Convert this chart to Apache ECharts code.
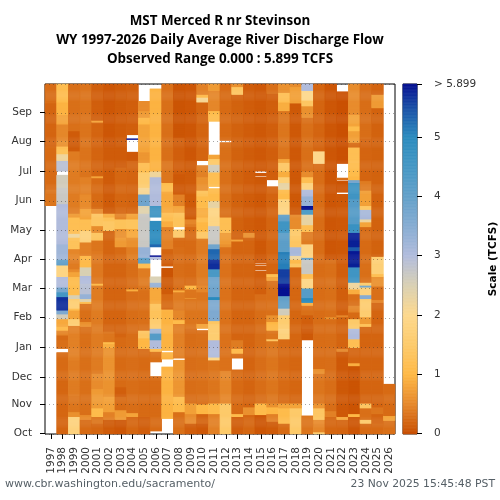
<!DOCTYPE html>
<html>
<head>
<meta charset="utf-8">
<script src="https://cdn.jsdelivr.net/npm/echarts@6/dist/echarts.min.js"></script>
<style>
html, body { margin: 0; padding: 0; background: #fff; }
#chart { width: 500px; height: 500px; }
</style>
</head>
<body>
<div id="chart"></div>
<script>
var years = [];
for (var y = 1997; y <= 2026; y++) years.push(String(y));

var monthNames = ['Oct', 'Nov', 'Dec', 'Jan', 'Feb', 'Mar', 'Apr', 'May', 'Jun', 'Jul', 'Aug', 'Sep'];
// where the reference puts its month ticks, in days up from the bottom of the plot
var monthStarts = [0, 31, 59, 90, 121, 152, 182, 212, 243, 274, 305, 335];

// each year: runs of [end day counted from Oct 1, flow in TCFS], null = no data
var wy1997 = [[238,null],[255,.35],[300,.25],[345,.2],[365,.27]];
var wy1998 = [[17,.2],[58,.22],[85,.25],[89,null],[98,.3],[103,.25],[108,.5],[112,1.0],[120,.85],[125,2.6],[129,3.6],[143,5.7],[148,4.5],[153,3.7],[164,3],[176,1.9],[182,4],[198,3.2],[240,3],[257,2.7],[270,2.6],[274,null],[285,2.9],[292,2.2],[297,1.3],[300,1.2],[306,.6],[323,.5],[333,.8],[346,.95],[352,1.1],[365,1.15]];
var wy1999 = [[18,1.8],[23,.6],[40,.35],[77,.4],[113,.45],[120,1.7],[129,.8],[131,1.1],[141,1.65],[145,2.5],[153,1.15],[164,1.1],[169,.8],[172,.55],[182,.4],[193,.5],[205,1.3],[209,2.2],[226,1.2],[230,.7],[295,.4],[316,.12],[365,.3]];
var wy2000 = [[15,.25],[20,.55],[112,.3],[117,.6],[136,.3],[138,1.1],[141,2.4],[146,3.3],[157,2.9],[165,3],[174,2.5],[178,1.1],[186,1.0],[200,.45],[212,1.8],[224,1.2],[235,.8],[250,.55],[268,.45],[365,.33]];
var wy2001 = [[11,.22],[18,.35],[27,1.1],[47,.7],[63,.55],[155,.4],[157,1.0],[191,.38],[202,.35],[210,1.3],[217,.55],[230,1.4],[235,.55],[267,.25],[269,.8],[325,.2],[327,.8],[365,.15]];
var wy2002 = [[15,.12],[23,.45],[39,.75],[90,.62],[94,.9],[96,1.1],[107,.35],[212,.2],[222,1.45],[226,1.3],[230,.9],[300,.12],[365,.08]];
var wy2003 = [[15,.08],[25,.7],[39,.25],[49,.15],[101,.25],[182,.2],[195,.25],[205,.7],[214,.6],[224,1.3],[230,.5],[278,.22],[365,.12]];
var wy2004 = [[18,.22],[22,.8],[149,.28],[151,.9],[182,.28],[195,.42],[205,.6],[214,.85],[224,1.35],[230,.8],[285,.2],[294,.1],[307,null],[308,5.9],[312,null],[365,.15]];
var wy2005 = [[18,.15],[89,.25],[100,1.0],[108,1.4],[150,.3],[155,.35],[173,.4],[178,1.2],[184,4.2],[195,3.3],[230,2.7],[238,2.4],[250,3.8],[257,2.1],[273,1.6],[283,1.15],[294,.65],[323,.8],[330,1.0],[337,.7],[347,.55],[365,null]];
var wy2006 = [[3,null],[60,.25],[75,null],[86,.3],[89,1.1],[98,3],[105,4.2],[110,3.2],[120,1.6],[136,1.3],[153,.85],[158,3.3],[164,2.5],[182,null],[185,3],[186,5.9],[195,null],[198,5.3],[222,4.9],[226,null],[238,4.6],[254,3],[268,3],[274,2.2],[360,.95],[365,null]];
var wy2007 = [[16,null],[70,.95],[78,null],[85,.95],[87,null],[130,.95],[132,.2],[146,.25],[164,.12],[173,.05],[175,null],[182,.15],[193,.2],[216,.45],[222,.9],[231,1.2],[253,.85],[262,1.1],[285,.35],[365,.3]];
var wy2008 = [[23,.3],[39,1.1],[77,.65],[79,null],[115,.45],[119,1.1],[129,.5],[148,.4],[150,.9],[195,.28],[205,.25],[213,1.5],[216,null],[231,1.3],[238,.8],[250,.45],[271,.1],[309,.15],[365,.06]];
var wy2009 = [[11,.15],[21,.55],[32,.75],[110,.28],[141,.35],[142,.6],[151,.35],[155,1.0],[216,.25],[219,.4],[224,.5],[285,.12],[365,.08]];
var wy2010 = [[11,.1],[21,.2],[31,1.0],[108,.3],[110,null],[115,.8],[148,.35],[155,.5],[204,.4],[211,1.4],[221,1.0],[226,1.2],[236,.9],[248,1.1],[254,1.3],[268,.6],[280,.45],[285,null],[346,.2],[351,2.1],[354,1.0],[365,.45]];
var wy2011 = [[21,.45],[32,1.1],[77,.35],[80,2],[98,3],[106,1.6],[115,1.5],[118,1.4],[140,3.6],[143,5],[164,3.8],[172,4.4],[182,5.7],[193,5.3],[198,3.8],[217,2.7],[236,1.9],[243,2.3],[256,1.1],[258,null],[273,1.2],[281,2.6],[287,1.5],[291,.8],[326,null],[337,1.1],[358,.5],[365,.7]];
var wy2012 = [[32,1.5],[66,.5],[195,.32],[198,.6],[210,.7],[226,1.2],[304,.3],[306,null],[365,.25]];
var wy2013 = [[18,.15],[21,1.1],[67,.25],[79,null],[84,.3],[89,1.0],[98,.4],[201,.2],[203,.8],[354,.18],[362,1.4],[365,.6]];
var wy2014 = [[20,.22],[28,.6],[205,.2],[210,.6],[365,.13]];
var wy2015 = [[20,.08],[32,1.1],[146,.28],[170,.15],[171,null],[175,.15],[176,null],[177,.15],[178,null],[268,.1],[269,null],[272,.1],[274,null],[365,.1]];
var wy2016 = [[13,.12],[21,.45],[28,1.0],[32,.6],[97,.35],[99,1.4],[108,.35],[117,1.0],[124,.6],[160,.3],[164,.8],[167,1.2],[258,.2],[265,null],[355,.15],[365,.3]];
var wy2017 = [[11,.25],[27,1.1],[32,.8],[99,.25],[110,1.8],[124,1.6],[131,2.6],[144,4],[157,5.9],[172,5.6],[190,5.1],[210,4.1],[222,4.6],[229,4],[245,1.9],[255,1.1],[262,2.3],[268,1.7],[274,.9],[283,1.4],[287,.8],[337,.35],[346,.9],[356,1.2],[365,.6]];
var wy2018 = [[27,1.5],[32,.8],[174,.22],[178,1.4],[182,1.0],[186,2.2],[195,3.1],[207,1.4],[214,1.5],[229,.55],[345,.1],[362,.75],[365,.55]];
var wy2019 = [[19,.35],[98,null],[110,.1],[124,.15],[134,.3],[137,.9],[142,5],[152,4.2],[162,1.9],[167,1.2],[182,2.7],[184,4],[198,1.9],[211,.4],[218,1.2],[229,2.3],[234,4.5],[238,5.9],[248,3.3],[255,3],[262,1.8],[268,1.2],[274,.55],[330,.3],[342,.6],[348,1.4],[358,2],[365,3]];
var wy2020 = [[2,1.6],[11,.5],[15,.55],[27,1.4],[32,.65],[63,.35],[68,.6],[282,.27],[295,2],[365,.2]];
var wy2021 = [[18,.22],[24,.45],[120,.28],[122,.6],[182,.3],[365,.08]];
var wy2022 = [[15,.2],[18,.85],[86,.1],[89,.5],[122,.2],[124,.5],[182,.15],[250,.1],[252,null],[264,.05],[265,null],[267,.3],[282,null],[357,.03],[365,null]];
var wy2023 = [[18,.08],[21,1],[71,.05],[74,.9],[90,.2],[99,1.2],[110,3],[120,1.5],[127,.25],[134,.5],[146,.3],[151,.9],[158,2.2],[174,4.6],[182,5.8],[191,5.85],[195,5.4],[210,5.8],[219,4.7],[245,4.2],[262,4.6],[265,3.7],[269,1],[283,1.1],[299,1.2],[304,.25],[316,.75],[321,1.1],[333,.8],[365,.55]];
var wy2024 = [[11,.25],[15,1.5],[27,.3],[32,1.4],[112,.2],[115,1.2],[122,.7],[141,1.6],[145,3.5],[153,1.8],[155,3.8],[158,1.5],[182,.3],[216,.25],[221,.8],[224,2.2],[234,3.1],[238,1.4],[254,.75],[264,.4],[308,.2],[365,.28]];
var wy2025 = [[11,.25],[21,.2],[28,.35],[137,.2],[140,.5],[154,.3],[164,.6],[167,1.2],[182,1.7],[185,1.5],[340,.18],[354,.7],[365,.2]];
var wy2026 = [[14,.3],[19,.8],[52,.25],[365,null]];

var yearRuns = [wy1997, wy1998, wy1999, wy2000, wy2001, wy2002, wy2003, wy2004, wy2005, wy2006,
    wy2007, wy2008, wy2009, wy2010, wy2011, wy2012, wy2013, wy2014, wy2015, wy2016,
    wy2017, wy2018, wy2019, wy2020, wy2021, wy2022, wy2023, wy2024, wy2025, wy2026];

// colour scale, one stop every 0.5 TCFS from 0 to 6
var scaleColors = ['#c84e00', '#e5872a', '#feb845', '#fdca6a', '#fdd88c', '#d9d0b3', '#b1bcdc',
    '#86acd2', '#62a0c9', '#4597c4', '#2a8bbe', '#1a4fa6', '#00008c'];
var scaleTicks = [0, 1, 2, 3, 4, 5];
var scaleMax = 5.899;

var dayCats = [];
for (var d = 0; d < 365; d++) dayCats.push(d);

var cells = [];
yearRuns.forEach(function (runs, yi) {
    var from = 0;
    runs.forEach(function (run) {
        for (var day = from; day < run[0]; day++) {
            if (run[1] !== null) cells.push([yi, day, run[1]]);
        }
        from = run[0];
    });
});

var barCats = [];
var barCells = [];
for (var s = 0; s < 590; s++) {
    barCats.push(s);
    barCells.push([0, s, Math.min(s / 100, scaleMax)]);
}

function isMonthStart(i) { return monthStarts.indexOf(i) >= 0; }
function isBarTick(i) { return i === 589 || (i % 100 === 0); }

var chart = echarts.init(document.getElementById('chart'));
chart.setOption({
    animation: false,
    backgroundColor: '#fff',
    textStyle: { fontFamily: 'DejaVu Sans' },
    title: [
        {
            text: 'MST Merced R nr Stevinson\nWY 1997-2026 Daily Average River Discharge Flow\nObserved Range 0.000 : 5.899 TCFS',
            left: 220, top: 12, padding: 0, textAlign: 'center',
            textStyle: { fontFamily: 'Open Sans', fontWeight: 'bold', fontSize: 13.4, lineHeight: 19, color: '#000' }
        },
        {
            text: 'www.cbr.washington.edu/sacramento/',
            left: 5, top: 479, padding: 0,
            textStyle: { fontSize: 11, fontWeight: 'normal', color: '#555f66' }
        },
        {
            text: '23 Nov 2025 15:45:48 PST',
            right: 5, top: 479, padding: 0,
            textStyle: { fontSize: 10.8, fontWeight: 'normal', color: '#555f66' }
        }
    ],
    grid: [
        { left: 45, top: 84, width: 350, height: 350, show: true, borderColor: '#000', borderWidth: 1, backgroundColor: '#fff' },
        { left: 403, top: 84, width: 19, height: 350, show: true, borderColor: '#222', borderWidth: 1, backgroundColor: '#fff' }
    ],
    xAxis: [
        {
            type: 'category', gridIndex: 0, data: years,
            axisLine: { show: false },
            axisTick: { show: true, alignWithLabel: true, interval: 0, length: 5, lineStyle: { color: '#000' } },
            axisLabel: { interval: 0, rotate: 90, fontSize: 10.5, margin: 13, color: '#333' }
        },
        {
            type: 'category', gridIndex: 1, data: ['scale'],
            axisLine: { show: false }, axisTick: { show: false }, axisLabel: { show: false }
        }
    ],
    yAxis: [
        {
            type: 'category', gridIndex: 0, data: dayCats, z: 5,
            axisLine: { show: false },
            axisTick: { show: true, alignWithLabel: true, interval: isMonthStart, length: 5, lineStyle: { color: '#000' } },
            axisLabel: {
                interval: isMonthStart, fontSize: 10.5, margin: 13, color: '#333', padding: [3, 0, 0, 0],
                formatter: function (v) { return monthNames[monthStarts.indexOf(Number(v))]; }
            },
            splitLine: { show: true, interval: isMonthStart, lineStyle: { color: 'rgba(40,40,40,0.42)', width: 1, type: [1, 3] } }
        },
        {
            type: 'category', gridIndex: 1, data: barCats, position: 'right', z: 5,
            axisLine: { show: false },
            axisTick: { show: true, alignWithLabel: true, interval: isBarTick, length: 5, lineStyle: { color: '#000' } },
            axisLabel: {
                interval: isBarTick, fontSize: 10.5, margin: 17, color: '#333', padding: [3, 0, 0, 0],
                formatter: function (v) {
                    var i = Number(v);
                    return i === 589 ? '> ' + scaleMax : scaleTicks[i / 100];
                }
            },
            name: 'Scale (TCFS)', nameLocation: 'middle', nameGap: 71, nameRotate: 90,
            nameTextStyle: { fontWeight: 'bold', fontSize: 10.5, color: '#000' }
        }
    ],
    visualMap: {
        show: false, type: 'continuous', min: 0, max: 6, seriesIndex: [0, 1],
        dimension: 2, inRange: { color: scaleColors }
    },
    series: [
        {
            type: 'heatmap', xAxisIndex: 0, yAxisIndex: 0, data: cells,
            progressive: 0, silent: true, emphasis: { disabled: true }
        },
        {
            type: 'heatmap', xAxisIndex: 1, yAxisIndex: 1, data: barCells,
            progressive: 0, silent: true, emphasis: { disabled: true }
        }
    ]
});
</script>
</body>
</html>
